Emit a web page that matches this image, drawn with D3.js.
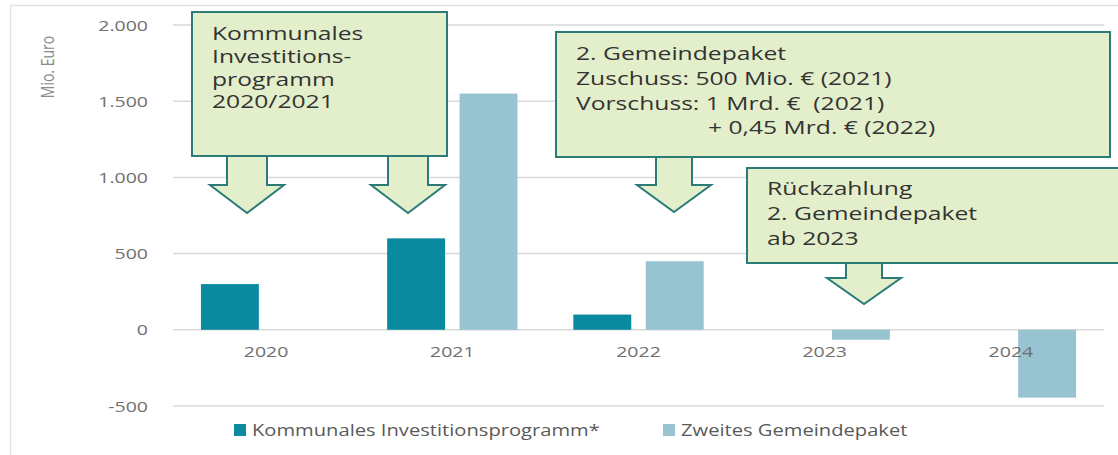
<!DOCTYPE html>
<html><head><meta charset="utf-8">
<script src="https://cdn.jsdelivr.net/npm/d3@7"></script>
<style>html,body{margin:0;padding:0;background:#fff;}svg{display:block;}</style>
</head><body>
<svg id="chart" width="1118" height="455"></svg>
<script>
// ---- data ----
const years = ["2020", "2021", "2022", "2023", "2024"];
const kipValues = [300, 600, 100, 0, 0];          // Kommunales Investitionsprogramm*
const zgValues = [0, 1550, 450, -65, -445];        // Zweites Gemeindepaket
const seriesNames = ["Kommunales Investitionsprogramm*", "Zweites Gemeindepaket"];
const yTicks = [-500, 0, 500, 1000, 1500, 2000];
const yTitle = "Mio. Euro";
const box1Lines = ["Kommunales", "Investitions-", "programm", "2020/2021"];
const box2Lines = ["2. Gemeindepaket", "Zuschuss: 500 Mio. € (2021)", "Vorschuss: 1 Mrd. €  (2021)", "+ 0,45 Mrd. € (2022)"];
const box3Lines = ["Rückzahlung", "2. Gemeindepaket", "ab 2023"];

// ---- layout ----
const W = 1118, H = 455;
const plot = {left: 173, right: 1104, top: 25, bottom: 406};
const SX = 1.3; // horizontal stretch of the source picture
const SXB = 1.37;
const FONT = "'Open Sans', sans-serif";
const colors = ["#0a8a9f", "#98c3d1"];
const boxFill = "#e3efca", boxStroke = "#2b7b79";

const svg = d3.select("#chart");

// frame
svg.append("path").attr("d", `M10.5,${H} V5.5 H${W}`).attr("fill", "none").attr("stroke", "#e2e2e2").attr("stroke-width", 1.5);

const y = d3.scaleLinear().domain([-500, 2000]).range([plot.bottom, plot.top]);
const x0 = d3.scaleBand().domain(years).range([plot.left, plot.right]).paddingInner(0.3).paddingOuter(0.15);
const x1 = d3.scaleBand().domain([0, 1]).range([0, x0.bandwidth()]).paddingInner(0.2);

const fmt = d3.formatLocale({decimal: ",", thousands: ".", grouping: [3], currency: ["", "€"], minus: "-"}).format(",d");

// gridlines
svg.append("g").selectAll("line").data(yTicks).join("line")
  .attr("x1", plot.left).attr("x2", plot.right)
  .attr("y1", d => y(d)).attr("y2", d => y(d))
  .attr("stroke", "#d9d9d9").attr("stroke-width", 1.5);

// y tick labels
svg.append("g").selectAll("text").data(yTicks).join("text")
  .attr("transform", d => `translate(148,${y(d) + 5.5}) scale(${SX},1)`)
  .attr("text-anchor", "end").attr("font-family", FONT).attr("font-size", 15)
  .attr("fill", "#707070").text(d => fmt(d));

// y title
svg.append("text")
  .attr("transform", `translate(54,67) scale(${SX},1) rotate(-90)`)
  .attr("text-anchor", "middle").attr("font-family", FONT).attr("font-size", 14)
  .attr("fill", "#8a8a8a").text(yTitle);

// bars
const series = [kipValues, zgValues];
series.forEach((vals, si) => {
  svg.append("g").selectAll("rect").data(vals.map((v, i) => ({v, year: years[i]})).filter(d => d.v !== 0)).join("rect")
    .attr("x", d => x0(d.year) + x1(si))
    .attr("width", x1.bandwidth())
    .attr("y", d => y(Math.max(0, d.v)))
    .attr("height", d => Math.abs(y(d.v) - y(0)))
    .attr("fill", colors[si]);
});

// x labels
svg.append("g").selectAll("text").data(years).join("text")
  .attr("transform", d => `translate(${x0(d) + x0.bandwidth() / 2},357) scale(${SX},1)`)
  .attr("text-anchor", "middle").attr("font-family", FONT).attr("font-size", 15)
  .attr("fill", "#707070").text(d => d);

// legend
const legendX = [234, 663];
seriesNames.forEach((name, i) => {
  svg.append("rect").attr("x", legendX[i]).attr("y", 424).attr("width", 12).attr("height", 12).attr("fill", colors[i]);
  svg.append("text").attr("transform", `translate(${legendX[i] + 18},436) scale(${SX},1)`)
    .attr("font-family", FONT).attr("font-size", 15.5).attr("fill", "#5a5a5a").text(name);
});

// callouts
function arrow(cx, top, headTop, tip, shaftHalf, headHalf) {
  svg.append("path")
    .attr("d", `M${cx - shaftHalf},${top} V${headTop} H${cx - headHalf} L${cx},${tip} L${cx + headHalf},${headTop} H${cx + shaftHalf} V${top}`)
    .attr("fill", boxFill).attr("stroke", boxStroke).attr("stroke-width", 2).attr("stroke-linejoin", "miter");
}
function box(x, yy, w, h, lines, tx, baselines, size, extraX) {
  svg.append("rect").attr("x", x).attr("y", yy).attr("width", w).attr("height", h)
    .attr("fill", boxFill).attr("stroke", boxStroke).attr("stroke-width", 2);
  lines.forEach((t, i) => {
    svg.append("text")
      .attr("transform", `translate(${tx + (extraX && extraX[i] || 0)},${baselines[i]}) scale(${SXB},1)`)
      .attr("font-family", FONT).attr("font-size", size).attr("fill", "#333")
      .style("white-space", "pre").text(t);
  });
}
box(192, 12, 255, 144, box1Lines, 212, [40, 63, 86, 108], 18);
arrow(247, 157, 185, 213, 20, 37);
arrow(408, 157, 185, 213, 20, 37);
box(556, 32, 554, 125, box2Lines, 576, [60, 85, 110, 134], 18, [0, 0, 0, 132]);
arrow(674, 158, 185, 212, 18, 37);
box(747, 168, 380, 95, box3Lines, 767, [195, 220, 245], 18);
arrow(864, 264, 278, 304, 18, 37);
</script>
</body></html>
